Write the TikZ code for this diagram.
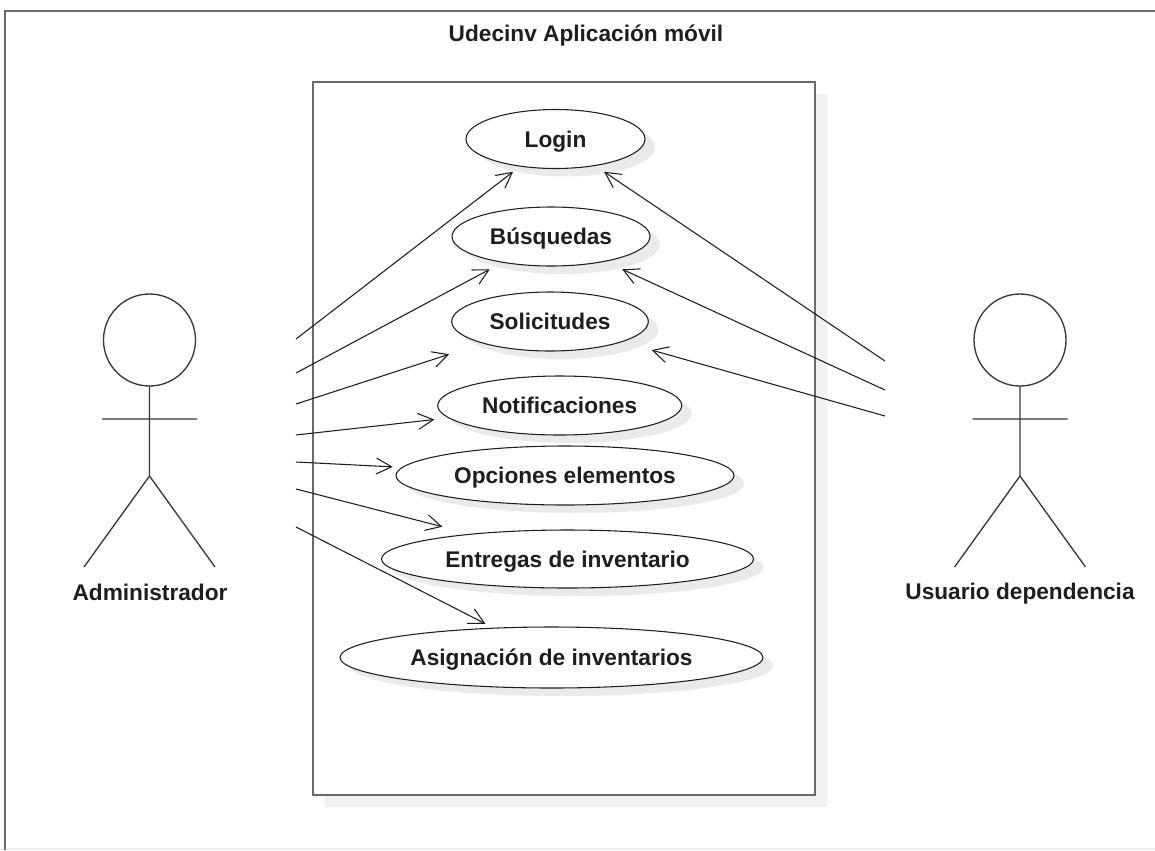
\documentclass[tikz,border=0pt]{standalone}
\usepackage{fontspec}
\setmainfont{Liberation Sans}
\usetikzlibrary{arrows.meta}

\definecolor{frame}{HTML}{6A6A6A}
\definecolor{ink}{HTML}{1E1E1E}
\definecolor{figure}{HTML}{383838}
\definecolor{ovalshadow}{HTML}{EAEAEA}
\definecolor{paneshadow}{HTML}{F1F1F1}

\begin{document}
% one unit = one pixel, y grows downwards
\begin{tikzpicture}[x=0.75pt,y=-0.75pt,
  txt/.style={font=\bfseries\fontsize{17}{20}\selectfont, text=ink},
  usecase/.style args={#1/#2}{txt, rectangle, inner sep=0pt,
    text height=12.2pt, text depth=0pt,
    minimum width={(2*#1+6)*0.75pt}, minimum height={(2*#2+6)*0.75pt}},
  oval/.style={draw=ink, line width=0.8pt, fill=white},
  assoc/.style={draw=ink, line width=0.8pt, line join=miter,
    -{Straight Barb[length=11.5pt,width=12pt]}},
  limb/.style={draw=figure, line width=1pt},
  boundary/.style={draw=frame, line width=1.7pt},
  stickman/.pic={
    \draw[limb] (0,0) circle[radius=34.5pt];
    \draw[limb] (0,46) -- (0,136)
                (-47.5,79) -- (47.5,79)
                (-65.5,227) -- (0,136) -- (65.5,227);
  }]

\useasboundingbox (0,0) rectangle (1155,850);

% system frame
\draw[paneshadow, line width=0.8pt] (0,849) -- (1155,849);
\draw[boundary] (5,850) -- (5,11) -- (1155,11);
\node[txt, anchor=base] (title) at (586,41) {Udecinv Aplicación móvil};

% application pane with its shadow
\fill[paneshadow] (325,94) rectangle (827,807);
\draw[boundary, fill=white] (313,82) rectangle (815,795);

% use cases: name / centre / radii / text
\foreach \n/\cx/\cy/\rx/\ry/\t in {
    login/555.5/139/89.5/29.5/Login,
    busq/551/236.5/99/29.5/Búsquedas,
    solic/550/321.5/98.3/29.5/Solicitudes,
    notif/559.7/405.5/122/29.5/Notificaciones,
    opc/565/475.5/169/29.5/Opciones elementos,
    entr/567.5/559/186/29/Entregas de inventario,
    asig/551.5/657.5/211.5/30.5/Asignación de inventarios} {
  \fill[ovalshadow] (\cx+10,\cy+8) ellipse [x radius={\rx*0.75pt}, y radius={\ry*0.75pt}];
  \draw[oval] (\cx,\cy) ellipse [x radius={\rx*0.75pt}, y radius={\ry*0.75pt}];
  \node[usecase=\rx/\ry] (\n) at (\cx,\cy) {\t};
}

% actors
\pic at (149.5,340) {stickman};
\node[txt, anchor=base] (admin) at (150,600) {Administrador};
\pic at (1020,340) {stickman};
\node[txt, anchor=base] (user) at (1020,599) {Usuario dependencia};

% association ends beside the actors
\coordinate (a1) at (296,339);
\coordinate (a2) at (296,373);
\coordinate (a3) at (296,404);
\coordinate (a4) at (296,435);
\coordinate (a5) at (296,462);
\coordinate (a6) at (296,489);
\coordinate (a7) at (296,527);
\coordinate (u1) at (885,361);
\coordinate (u2) at (885,390);
\coordinate (u3) at (885,416);

% associations
\draw[assoc] (a1) -- (login);
\draw[assoc] (a2) -- (busq);
\draw[assoc] (a3) -- (solic);
\draw[assoc] (a4) -- (notif);
\draw[assoc] (a5) -- (opc);
\draw[assoc] (a6) -- (entr);
\draw[assoc] (a7) -- (asig);
\draw[assoc] (u1) -- (login);
\draw[assoc] (u2) -- (busq);
\draw[assoc] (u3) -- (solic);
\end{tikzpicture}
\end{document}
